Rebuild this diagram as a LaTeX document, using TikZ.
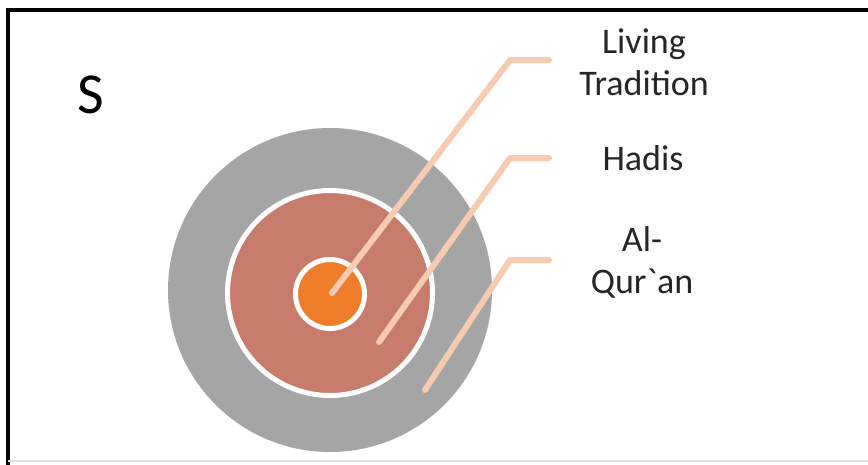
\documentclass[tikz,border=0pt]{standalone}
\usepackage{fontspec}
\setmainfont{Carlito}[Ligatures=TeXOff]
\definecolor{ringgray}{HTML}{A5A5A5}
\definecolor{midsalmon}{HTML}{C77C6B}
\definecolor{coreorange}{HTML}{EE7D2A}
\definecolor{leader}{HTML}{F6CBB0}
\begin{document}
\begin{tikzpicture}[x=1pt,y=-1pt,
  leaderline/.style={draw=leader,line width=6pt,line cap=round,line join=round},
  lbl/.style={inner sep=0pt,align=center,font=\fontsize{36}{42}\selectfont,text=black!85}]
\useasboundingbox (0,0) rectangle (868,464);
\fill[white] (0,0) rectangle (868,464);
% frame
\draw[black,line width=4pt] (8,466) -- (8,10) -- (870,10);
\draw[black!12,line width=1.5pt] (8,461) -- (868,461);
% title
\node[inner sep=0pt,anchor=base,font=\fontsize{58}{60}\selectfont] (s) at (91,113) {S};
% rings
\node[circle,fill=ringgray,minimum size=324pt,inner sep=0pt] (outer) at (330,290) {};
\node[circle,fill=midsalmon,draw=white,line width=5pt,minimum size=205pt,inner sep=0pt] (mid) at (330,293) {};
\node[circle,fill=coreorange,draw=white,line width=5pt,minimum size=69pt,inner sep=0pt] (core) at (330,294) {};
% labels (base anchor = last line baseline)
\node[lbl,anchor=base] (lt) at (644,95) {Living\\Tradition};
\node[lbl,anchor=base] (hd) at (643,170) {Hadis};
\node[lbl,anchor=base] (aq) at (642,293) {Al-\\Qur`an};
% leader coordinates
\coordinate (p1) at (332,293);
\coordinate (c1) at (510,60);
\coordinate (e1) at (549,60);
\coordinate (p2) at (379,342);
\coordinate (c2) at (510,158);
\coordinate (e2) at (549,158);
\coordinate (p3) at (425,390);
\coordinate (c3) at (510,260);
\coordinate (e3) at (549,260);
\draw[leaderline] (p1) -- (c1) -- (e1);
\draw[leaderline] (p2) -- (c2) -- (e2);
\draw[leaderline] (p3) -- (c3) -- (e3);
\end{tikzpicture}
\end{document}
